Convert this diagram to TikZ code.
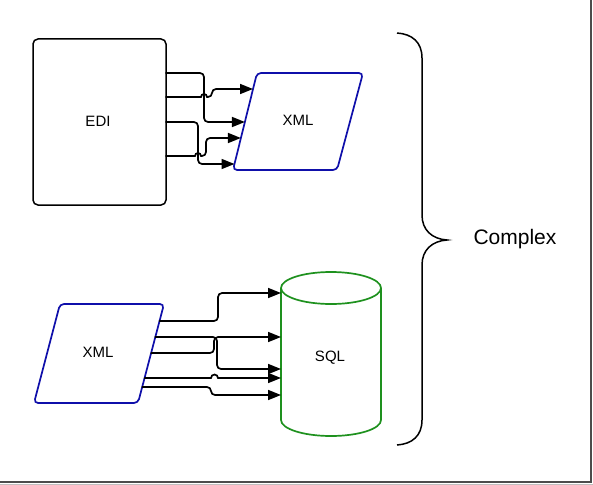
\documentclass[tikz,border=0pt]{standalone}
\usepackage{fontspec}
\setmainfont{Liberation Sans}
\usetikzlibrary{arrows.meta}
\definecolor{shapeblue}{RGB}{15,15,170}
\definecolor{shapegreen}{RGB}{30,145,30}
\tikzset{
  conn/.style={line width=1.7pt, line cap=round, -{Triangle[length=13pt,width=10pt]}},
  plain/.style={line width=1.5pt},
  lbl/.style={font=\fontsize{15}{17}\selectfont},
}
\begin{document}
\begin{tikzpicture}[x=1pt,y=-1pt]
\useasboundingbox (0,0) rectangle (593,484);
\fill[white] (0,0) rectangle (593,484);
% frame shadow
\draw[line width=2pt, black!70] (591,0) -- (591,482) -- (0,482);
\draw[line width=1pt, black!25] (593,0) -- (593,484) -- (0,484);

% EDI box
\draw[plain, rounded corners=5pt] (33,39) rectangle (166,205);
\node[lbl] (edi) at (98,121) {EDI};

% top XML parallelogram
\draw[line width=1.7pt, shapeblue, rounded corners=4pt] (257,73) -- (363,73) -- (337,170) -- (233,170) -- cycle;
\node[lbl] (xmltop) at (298,120) {XML};

% bottom XML parallelogram
\draw[line width=1.7pt, shapeblue, rounded corners=4pt] (60,304) -- (164,304) -- (138,403) -- (34,403) -- cycle;
\node[lbl] (xmlbot) at (98,352) {XML};

% SQL cylinder
\draw[line width=1.7pt, shapegreen] (331,288) ellipse [x radius=50, y radius=16];
\draw[line width=1.7pt, shapegreen] (281,288) -- (281,420) arc[start angle=180, end angle=360, x radius=50pt, y radius=16pt] -- (381,288);
\node[lbl] (sql) at (330,358) {SQL};

% coordinates of connector ends
\coordinate (s1) at (166,73);  \coordinate (s2) at (166,97);
\coordinate (s3) at (166,122); \coordinate (s4) at (166,156);
\coordinate (t1) at (244.9,122); \coordinate (t2) at (253,89);
\coordinate (t3) at (234.5,164); \coordinate (t4) at (240.9,138);

% top connectors
\draw[conn, rounded corners=4pt] (s1) -| (204,122) -- (t1);
\draw[conn] (s2) -- (201,97) arc[start angle=180, end angle=0, radius=3pt] [rounded corners=4pt] -- (212,97) -- (212,89) -- (t2);
\draw[conn, rounded corners=4pt] (s3) -| (198,164) -- (t3);
\draw[conn] (s4) -- (195,156) arc[start angle=180, end angle=0, radius=3pt] [rounded corners=4pt] -- (206,156) -- (206,138) -- (t4);

% bottom connectors
\coordinate (b1) at (159.5,321); \coordinate (b2) at (155.3,337);
\coordinate (b3) at (151.1,353); \coordinate (b4) at (144.6,378);
\coordinate (b5) at (142.2,387);
\coordinate (q1) at (281,293); \coordinate (q2) at (281,369);
\coordinate (q3) at (281,337); \coordinate (q4) at (281,378);
\coordinate (q5) at (281,395);

\draw[conn, rounded corners=4pt] (b1) -| (218,293) -- (q1);
\draw[conn, rounded corners=4pt] (b2) -| (217,369) -- (q2);
\draw[conn, rounded corners=4pt] (b3) -| (214,337) -- (q3);
\draw[conn] (b4) -- (211,378) arc[start angle=180, end angle=0, radius=3.5pt] -- (q4);
\draw[conn, rounded corners=4pt] (b5) -| (211,395) -- (q5);

% brace
\draw[line width=1.5pt] (397,33) .. controls (412,34) and (422,42) .. (422,58)
  -- (422,215) .. controls (422,230) and (432,239) .. (447,240)
  .. controls (432,241) and (422,250) .. (422,265)
  -- (422,420) .. controls (422,436) and (412,444) .. (397,445);
\node[font=\fontsize{21}{24}\selectfont] (complex) at (515,239) {Complex};
\end{tikzpicture}
\end{document}
